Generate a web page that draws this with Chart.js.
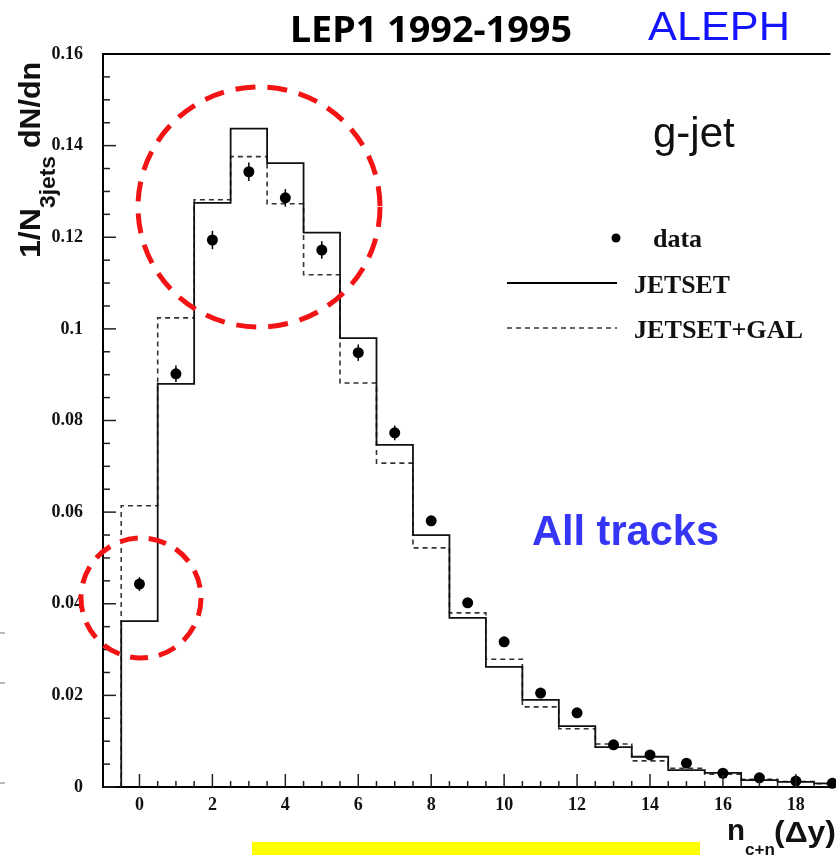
<!DOCTYPE html>
<html>
<head>
<meta charset="utf-8">
<script src="https://cdn.jsdelivr.net/npm/chart.js@4"></script>
<style>
  body{margin:0;background:#fff;}
  #wrap{position:relative;width:836px;height:855px;}
</style>
</head>
<body>
<div id="wrap"><canvas id="myChart" width="836" height="855"></canvas></div>
<script>
// n_c+n bins and values
const bins=[0,1,2,3,4,5,6,7,8,9,10,11,12,13,14,15,16,17,18,19];
const dataVals=[0.0443,0.0902,0.1194,0.1343,0.1286,0.1172,0.0948,0.0773,0.0581,0.0402,0.0317,0.0205,0.0162,0.0092,0.0070,0.0052,0.0030,0.0020,0.0013,0.0008];
const dataErr=[0.0015,0.0018,0.0020,0.0020,0.0019,0.0019,0.0018,0.0016,0.0010,0.0008,0.0008,0.0006,0.0005,0.0004,0.0004,0.0003,0.0003,0.0002,0.0002,0.0002];
const jetset=[0.0362,0.0880,0.1275,0.1437,0.1362,0.1210,0.0980,0.0747,0.0550,0.0369,0.0262,0.0190,0.0133,0.0087,0.0066,0.0037,0.0031,0.0015,0.0011,0.0008];
const jetsetGal=[0.0614,0.1024,0.1282,0.1376,0.1273,0.1118,0.0882,0.0707,0.0522,0.0380,0.0279,0.0175,0.0127,0.0094,0.0057,0.0041,0.0028,0.0017,0.0012,0.0007];
const yTicks=[0,0.02,0.04,0.06,0.08,0.1,0.12,0.14,0.16];
const xTicks=[0,2,4,6,8,10,12,14,16,18];

function steps(vals){
  let pts=[{x:bins[0]-0.5,y:0}];
  vals.forEach((v,i)=>{
    pts.push({x:bins[i]-0.5,y:v});
    pts.push({x:bins[i]+0.5,y:v});
  });
  return pts;
}

function txt(ctx,s,x,y,font,color,w){
  ctx.save();
  ctx.font=font;
  ctx.fillStyle=color;
  ctx.textBaseline='alphabetic';
  ctx.textAlign='left';
  let m=ctx.measureText(s).width;
  ctx.translate(x,y);
  if(w) ctx.scale(w/m,1);
  ctx.fillText(s,0,0);
  ctx.restore();
}

const bgPlugin={
  id:'bg',
  beforeDraw(chart){
    const c=chart.ctx;
    c.save();c.fillStyle='#fff';c.fillRect(0,0,chart.width,chart.height);c.restore();
  }
};

const ticksPlugin={
  id:'ticksInside',
  afterDatasetsDraw(chart){
    const c=chart.ctx,a=chart.chartArea,xs=chart.scales.x,ys=chart.scales.y;
    c.save();
    c.strokeStyle='#222';c.lineWidth=1.5;
    // y ticks every 0.005
    for(let k=0;k<=32;k++){
      const v=k*0.005,py=ys.getPixelForValue(v);
      const len=(k%4===0)?13:7;
      c.beginPath();c.moveTo(a.left,py);c.lineTo(a.left+len,py);c.stroke();
    }
    // x ticks every 0.5
    for(let k=-2;k<=39;k++){
      const v=k*0.5,px=xs.getPixelForValue(v);
      if(px<=a.left+1||px>a.right)continue;
      const len=(k%4===0)?13:6;
      c.beginPath();c.moveTo(px,a.bottom);c.lineTo(px,a.bottom-len);c.stroke();
    }
    // top frame line
    c.strokeStyle='#000';c.lineWidth=2;
    c.beginPath();c.moveTo(a.left-1,a.top);c.lineTo(a.right,a.top);c.stroke();
    // stray marks at far left
    c.strokeStyle='#777';c.lineWidth=1;
    [633,683,783].forEach(y=>{c.beginPath();c.moveTo(0,y);c.lineTo(5,y);c.stroke();});
    c.restore();
  }
};

const errPlugin={
  id:'errBars',
  afterDatasetsDraw(chart){
    const c=chart.ctx,xs=chart.scales.x,ys=chart.scales.y;
    c.save();c.strokeStyle='#000';c.lineWidth=1.5;
    bins.forEach((b,i)=>{
      const px=xs.getPixelForValue(b);
      c.beginPath();
      c.moveTo(px,ys.getPixelForValue(dataVals[i]-dataErr[i]));
      c.lineTo(px,ys.getPixelForValue(dataVals[i]+dataErr[i]));
      c.stroke();
    });
    c.restore();
  }
};

const notesPlugin={
  id:'notes',
  afterDraw(chart){
    const c=chart.ctx;
    // titles
    txt(c,'LEP1 1992-1995',290,42,'bold 35px "Noto Sans"','#000',282);
    txt(c,'ALEPH',648,40,'41px "Liberation Sans"','#1414ff',142);
    txt(c,'g-jet',653,147,'42px "Liberation Sans"','#111');
    txt(c,'All tracks',532,545,'bold 42px "Liberation Sans"','#3535f5',187);
    // legend
    c.save();
    c.fillStyle='#000';
    c.beginPath();c.arc(616,238,4.5,0,Math.PI*2);c.fill();
    c.strokeStyle='#000';c.lineWidth=1.8;
    c.beginPath();c.moveTo(507,283);c.lineTo(617,283);c.stroke();
    c.strokeStyle='#333';c.lineWidth=1.6;c.setLineDash([5,4]);
    c.beginPath();c.moveTo(507,328);c.lineTo(617,328);c.stroke();
    c.restore();
    txt(c,'data',653,247,'bold 26px "Liberation Serif"','#111');
    txt(c,'JETSET',634,293,'bold 26px "Liberation Serif"','#111',96);
    txt(c,'JETSET+GAL',634,338,'bold 26px "Liberation Serif"','#111',169);
    // y axis title (rotated)
    c.save();
    c.translate(40,258);c.rotate(-Math.PI/2);
    txt(c,'1/N',0,0,'bold 30px "Liberation Sans"','#111',50);
    txt(c,'3jets',50,15,'bold 22px "Liberation Sans"','#111',52);
    txt(c,'dN/dn',110,0,'bold 30px "Liberation Sans"','#111',86);
    c.restore();
    // x axis title
    txt(c,'n',727,840,'bold 29px "Liberation Sans"','#111',18);
    txt(c,'c+n',745,855,'bold 17px "Liberation Sans"','#111',30);
    txt(c,'(\u0394y)',774,842,'bold 29px "Liberation Sans"','#111',62);
    // yellow bar
    c.save();c.fillStyle='#ffff00';c.fillRect(252,842,448,13);c.restore();
    // red dashed circles
    c.save();
    c.strokeStyle='#f21414';c.lineWidth=5;c.setLineDash([20,12]);
    c.beginPath();c.ellipse(259,207,121,120,0,0,Math.PI*2);c.stroke();
    c.setLineDash([18,11]);
    c.beginPath();c.arc(141,598,60,0,Math.PI*2);c.stroke();
    c.restore();
  }
};

const ctx=document.getElementById('myChart').getContext('2d');
const myChart=new Chart(ctx,{
  type:'scatter',
  data:{
    datasets:[
      {
        type:'line',
        label:'JETSET',
        data:steps(jetset),
        borderColor:'#111',
        borderWidth:1.8,
        pointRadius:0,
        fill:false,
        tension:0,
        order:2
      },
      {
        type:'line',
        label:'JETSET+GAL',
        data:steps(jetsetGal),
        borderColor:'#333',
        borderWidth:1.6,
        borderDash:[5,4],
        pointRadius:0,
        fill:false,
        tension:0,
        order:3
      },
      {
        type:'scatter',
        label:'data',
        data:bins.map((b,i)=>({x:b,y:dataVals[i]})),
        backgroundColor:'#000',
        borderWidth:0,
        pointRadius:5.5,
        clip:false,
        order:1
      }
    ]
  },
  options:{
    responsive:false,
    animation:false,
    devicePixelRatio:1,
    layout:{padding:{top:54,left:0,right:0,bottom:0}},
    plugins:{legend:{display:false},tooltip:{enabled:false}},
    scales:{
      x:{
        type:'linear',
        min:-1,
        max:18.95,
        afterFit(s){s.height=68;},
        afterBuildTicks(s){s.ticks=xTicks.map(v=>({value:v}));},
        grid:{display:false,drawTicks:false},
        border:{display:true,color:'#000',width:2},
        ticks:{
          padding:8,
          maxRotation:0,
          autoSkip:false,
          color:'#111',
          font:{family:'Liberation Serif',weight:'bold',size:18}
        }
      },
      y:{
        min:0,
        max:0.16,
        afterFit(s){s.width=103;},
        afterBuildTicks(s){s.ticks=yTicks.map(v=>({value:v}));},
        grid:{display:false,drawTicks:false},
        border:{display:true,color:'#000',width:2},
        ticks:{
          padding:20,
          color:'#111',
          font:{family:'Liberation Serif',weight:'bold',size:18},
          callback:v=>String(+v.toFixed(2))
        }
      }
    }
  },
  plugins:[bgPlugin,ticksPlugin,errPlugin,notesPlugin]
});
</script>
</body>
</html>
